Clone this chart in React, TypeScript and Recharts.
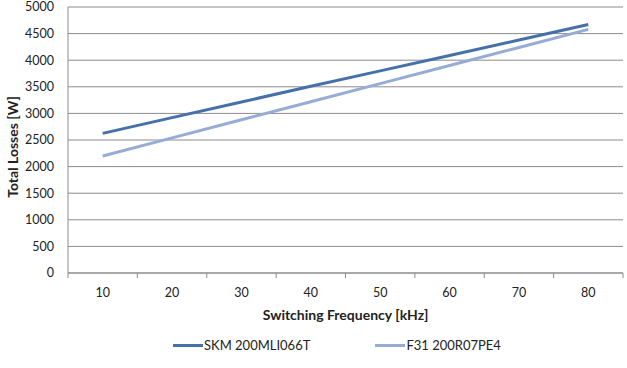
import { LineChart, Line, XAxis, YAxis, CartesianGrid, Legend } from "recharts";

// Switching frequency in kHz
const frequencies = [10, 20, 30, 40, 50, 60, 70, 80];
// Total losses in W for each module
const skmLosses = [2625, 2920, 3215, 3510, 3800, 4090, 4380, 4670];
const f31Losses = [2200, 2540, 2880, 3220, 3560, 3900, 4240, 4580];
const lossTicks = [0, 500, 1000, 1500, 2000, 2500, 3000, 3500, 4000, 4500, 5000];
// Category boundaries (odd fives) carry the tick marks, tens carry the labels
const freqTicks = [5, 10, 15, 20, 25, 30, 35, 40, 45, 50, 55, 60, 65, 70, 75, 80, 85];

const SERIES = [
  { key: "skm", name: "SKM 200MLI066T", color: "#4670A9" },
  { key: "f31", name: "F31 200R07PE4", color: "#97ACD4" },
];

const data = frequencies.map((f, i) => ({ f, skm: skmLosses[i], f31: f31Losses[i] }));

const FONT = "Lato, 'Open Sans', sans-serif";
const AXIS_GRAY = "#8c8c8c";
const TEXT = "#222";

function FreqTick(props: any) {
  const { x, y, payload } = props;
  const v = payload.value as number;
  if (v % 10 === 5) {
    return <line x1={x} x2={x} y1={y} y2={y + 5} stroke={AXIS_GRAY} strokeWidth={1} />;
  }
  return (
    <text x={x} y={y + 24} textAnchor="middle" fontSize={12.5} fontFamily={FONT} fill={TEXT}>
      {v}
    </text>
  );
}

function LossTitle() {
  return (
    <text
      x={0}
      y={0}
      transform="translate(18 147) rotate(-90)"
      textAnchor="middle"
      fontFamily={FONT}
      fontSize={14}
      fontWeight={700}
      fill={TEXT}
    >
      Total Losses [W]
    </text>
  );
}

function LegendContent() {
  return (
    <div
      style={{
        display: "flex",
        alignItems: "center",
        height: 40,
        paddingLeft: 173,
        boxSizing: "border-box",
        fontFamily: FONT,
        fontSize: 13,
        color: TEXT,
        paddingBottom: 6,
      }}
    >
      {SERIES.map((s, i) => (
        <div key={s.key} style={{ display: "flex", alignItems: "center", marginRight: i === 0 ? 65 : 0 }}>
          <span style={{ display: "inline-block", width: 30, height: 3, background: s.color, marginRight: 1 }} />
          <span>{s.name}</span>
        </div>
      ))}
    </div>
  );
}

export default function App() {
  return (
    <div style={{ position: "fixed", top: 0, left: 0, background: "#fff" }}>
      <LineChart width={627} height={368} data={data} margin={{ top: 7, right: 4, left: 0, bottom: 0 }}>
        <CartesianGrid vertical={false} stroke={AXIS_GRAY} strokeWidth={1} />
        <XAxis
          dataKey="f"
          type="number"
          domain={[5, 85]}
          ticks={freqTicks}
          interval={0}
          tickLine={false}
          tickSize={0}
          tickMargin={0}
          axisLine={{ stroke: AXIS_GRAY }}
          tick={<FreqTick />}
          height={55}
          label={{
            value: "Switching Frequency [kHz]",
            position: "insideBottom",
            offset: 8,
            style: { fontFamily: FONT, fontSize: 14, fontWeight: 700, fill: TEXT },
          }}
        />
        <YAxis
          domain={[0, 5000]}
          ticks={lossTicks}
          interval={0}
          width={68}
          tickLine={false}
          tickMargin={8}
          axisLine={{ stroke: AXIS_GRAY }}
          tick={{ fontFamily: FONT, fontSize: 12.5, fill: TEXT }}
          label={{ content: <LossTitle /> }}
        />
        <Legend verticalAlign="bottom" height={40} content={<LegendContent />} />
        {SERIES.map((s) => (
          <Line
            key={s.key}
            dataKey={s.key}
            name={s.name}
            stroke={s.color}
            strokeWidth={3}
            dot={false}
            type="linear"
            isAnimationActive={false}
          />
        ))}
      </LineChart>
    </div>
  );
}
